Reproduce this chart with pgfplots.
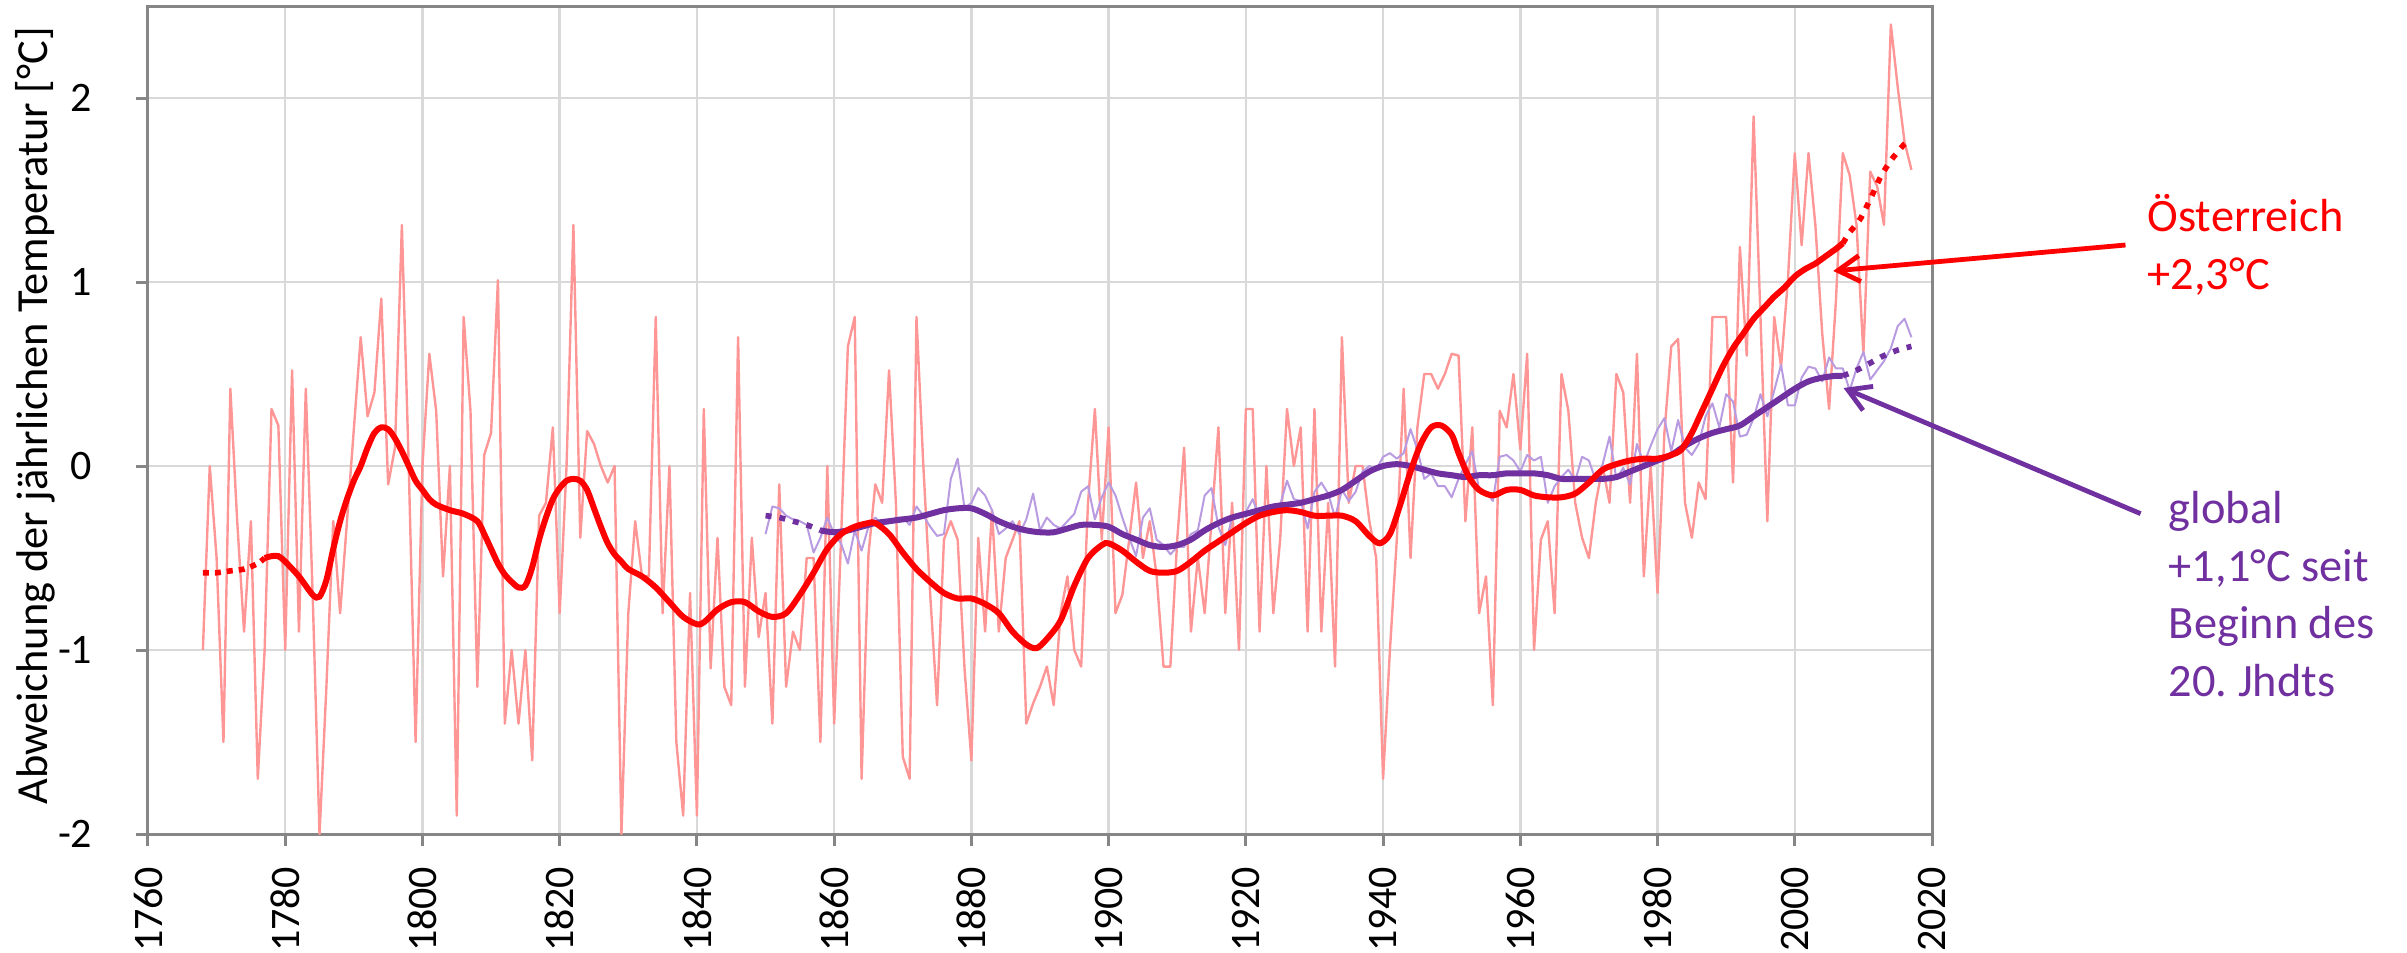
\documentclass[border=0pt]{standalone}
\usepackage{fontspec}
\setmainfont{Carlito}
\usepackage{pgfplots}
\pgfplotsset{compat=1.18}
\usepackage{pgfplotstable}
\usetikzlibrary{arrows.meta}

\definecolor{axgray}{RGB}{134,134,134}
\definecolor{gridgray}{RGB}{217,217,217}
\definecolor{atpink}{RGB}{255,150,150}
\definecolor{atred}{RGB}{255,0,0}
\definecolor{glpurple}{RGB}{112,48,160}
\definecolor{gllav}{RGB}{185,155,225}

% Austria, annual anomaly
\pgfplotstableread{
year val
1768 -1.00
1769 0.00
1770 -0.50
1771 -1.50
1772 0.42
1773 -0.30
1774 -0.90
1775 -0.30
1776 -1.70
1777 -1.00
1778 0.31
1779 0.22
1780 -1.00
1781 0.52
1782 -0.90
1783 0.42
1784 -0.70
1785 -2.00
1786 -1.20
1787 -0.30
1788 -0.80
1789 -0.30
1790 0.20
1791 0.70
1792 0.27
1793 0.40
1794 0.91
1795 -0.10
1796 0.10
1797 1.31
1798 0.00
1799 -1.50
1800 0.00
1801 0.61
1802 0.30
1803 -0.60
1804 0.00
1805 -1.90
1806 0.81
1807 0.30
1808 -1.20
1809 0.06
1810 0.18
1811 1.01
1812 -1.40
1813 -1.00
1814 -1.40
1815 -1.00
1816 -1.60
1817 -0.27
1818 -0.20
1819 0.21
1820 -0.80
1821 0.00
1822 1.31
1823 -0.39
1824 0.19
1825 0.12
1826 0.00
1827 -0.09
1828 0.00
1829 -2.00
1830 -0.80
1831 -0.30
1832 -0.60
1833 -0.60
1834 0.81
1835 -0.80
1836 0.00
1837 -1.50
1838 -1.90
1839 -0.69
1840 -1.90
1841 0.31
1842 -1.10
1843 -0.39
1844 -1.20
1845 -1.30
1846 0.70
1847 -1.20
1848 -0.39
1849 -0.93
1850 -0.69
1851 -1.40
1852 -0.10
1853 -1.20
1854 -0.90
1855 -1.00
1856 -0.50
1857 -0.50
1858 -1.50
1859 0.00
1860 -1.40
1861 -0.40
1862 0.65
1863 0.81
1864 -1.70
1865 -0.48
1866 -0.10
1867 -0.20
1868 0.52
1869 -0.20
1870 -1.58
1871 -1.70
1872 0.81
1873 0.00
1874 -0.70
1875 -1.30
1876 -0.40
1877 -0.30
1878 -0.40
1879 -1.10
1880 -1.60
1881 -0.39
1882 -0.90
1883 -0.24
1884 -0.90
1885 -0.50
1886 -0.40
1887 -0.30
1888 -1.40
1889 -1.29
1890 -1.20
1891 -1.09
1892 -1.30
1893 -0.80
1894 -0.60
1895 -1.00
1896 -1.09
1897 -0.20
1898 0.31
1899 -0.40
1900 0.21
1901 -0.80
1902 -0.70
1903 -0.40
1904 -0.09
1905 -0.50
1906 -0.30
1907 -0.60
1908 -1.09
1909 -1.09
1910 -0.40
1911 0.10
1912 -0.90
1913 -0.50
1914 -0.80
1915 -0.30
1916 0.21
1917 -0.80
1918 -0.20
1919 -1.00
1920 0.31
1921 0.31
1922 -0.90
1923 0.00
1924 -0.80
1925 -0.40
1926 0.31
1927 0.00
1928 0.21
1929 -0.90
1930 0.31
1931 -0.90
1932 -0.20
1933 -1.09
1934 0.70
1935 -0.20
1936 0.00
1937 0.00
1938 -0.30
1939 -0.50
1940 -1.70
1941 -1.00
1942 -0.40
1943 0.42
1944 -0.50
1945 0.21
1946 0.50
1947 0.50
1948 0.42
1949 0.50
1950 0.61
1951 0.60
1952 -0.30
1953 0.21
1954 -0.80
1955 -0.60
1956 -1.30
1957 0.30
1958 0.21
1959 0.50
1960 0.09
1961 0.61
1962 -1.00
1963 -0.40
1964 -0.30
1965 -0.80
1966 0.50
1967 0.30
1968 -0.20
1969 -0.39
1970 -0.50
1971 -0.20
1972 0.00
1973 -0.20
1974 0.50
1975 0.40
1976 -0.20
1977 0.61
1978 -0.60
1979 0.00
1980 -0.69
1981 0.18
1982 0.65
1983 0.69
1984 -0.20
1985 -0.39
1986 -0.09
1987 -0.18
1988 0.81
1989 0.81
1990 0.81
1991 -0.09
1992 1.19
1993 0.60
1994 1.90
1995 0.81
1996 -0.30
1997 0.81
1998 0.54
1999 1.01
2000 1.70
2001 1.20
2002 1.70
2003 1.31
2004 0.72
2005 0.31
2006 0.90
2007 1.70
2008 1.58
2009 1.31
2010 0.61
2011 1.60
2012 1.52
2013 1.31
2014 2.40
2015 2.06
2016 1.76
2017 1.61
}\atannual

% Austria, smoothed (dotted start)
\pgfplotstableread{
year val
1768 -0.58
1770 -0.58
1772 -0.57
1774 -0.56
1776 -0.53
1777 -0.50
}\atsmoothA

% Austria, smoothed (solid)
\pgfplotstableread{
year val
1777 -0.50
1778 -0.49
1779 -0.49
1780 -0.52
1782 -0.60
1784 -0.70
1785 -0.71
1786 -0.62
1787 -0.45
1788 -0.30
1789 -0.18
1790 -0.08
1791 0.00
1792 0.10
1793 0.18
1794 0.21
1795 0.20
1796 0.15
1797 0.08
1798 0.00
1799 -0.08
1800 -0.13
1801 -0.18
1802 -0.21
1804 -0.24
1806 -0.26
1808 -0.30
1809 -0.37
1810 -0.45
1811 -0.53
1812 -0.59
1813 -0.63
1814 -0.66
1815 -0.65
1816 -0.55
1817 -0.40
1818 -0.28
1819 -0.18
1820 -0.12
1821 -0.08
1822 -0.07
1823 -0.08
1824 -0.13
1825 -0.23
1826 -0.33
1827 -0.42
1828 -0.48
1829 -0.52
1830 -0.56
1832 -0.60
1834 -0.66
1836 -0.74
1838 -0.82
1840 -0.86
1841 -0.85
1843 -0.78
1845 -0.74
1847 -0.74
1849 -0.79
1851 -0.82
1853 -0.80
1855 -0.70
1857 -0.58
1859 -0.45
1861 -0.37
1863 -0.33
1865 -0.31
1866 -0.31
1868 -0.37
1870 -0.47
1872 -0.56
1874 -0.63
1876 -0.69
1878 -0.72
1880 -0.72
1882 -0.75
1884 -0.80
1886 -0.90
1888 -0.97
1889.5 -0.99
1891 -0.94
1893 -0.84
1895 -0.65
1897 -0.50
1899 -0.43
1900 -0.42
1902 -0.46
1904 -0.52
1906 -0.57
1908 -0.58
1910 -0.57
1912 -0.52
1914 -0.46
1916 -0.41
1918 -0.36
1920 -0.31
1922 -0.27
1924 -0.25
1926 -0.24
1928 -0.25
1930 -0.27
1932 -0.27
1934 -0.27
1936 -0.30
1938 -0.38
1939.5 -0.42
1941 -0.37
1942.5 -0.21
1944 -0.03
1945.5 0.12
1947 0.21
1948.5 0.22
1950 0.17
1951 0.07
1952.5 -0.06
1954 -0.13
1956 -0.16
1958 -0.13
1960 -0.13
1962 -0.16
1964 -0.17
1966 -0.17
1968 -0.15
1970 -0.09
1972 -0.02
1974 0.01
1976 0.03
1978 0.04
1980 0.04
1982 0.06
1983.5 0.09
1985 0.18
1986.5 0.30
1988 0.42
1989.5 0.54
1991 0.64
1992.5 0.72
1994 0.80
1995.5 0.86
1997 0.92
1998.5 0.97
2000 1.03
2001.5 1.07
2003 1.10
2004.5 1.14
2006 1.18
2007 1.21
}\atsmoothB

% Austria, smoothed (dotted end)
\pgfplotstableread{
year val
2007 1.21
2008 1.27
2009.5 1.34
2011 1.45
2012.5 1.57
2014 1.66
2016 1.75
2017 1.77
}\atsmoothC

% Global, annual anomaly
\pgfplotstableread{
year val
1850 -0.37
1851 -0.22
1852 -0.23
1853 -0.27
1854 -0.29
1855 -0.30
1856 -0.32
1857 -0.47
1858 -0.39
1859 -0.28
1860 -0.37
1861 -0.42
1862 -0.53
1863 -0.35
1864 -0.46
1865 -0.33
1866 -0.28
1867 -0.32
1868 -0.31
1869 -0.28
1870 -0.28
1871 -0.32
1872 -0.22
1873 -0.27
1874 -0.33
1875 -0.38
1876 -0.37
1877 -0.07
1878 0.04
1879 -0.23
1880 -0.20
1881 -0.12
1882 -0.16
1883 -0.24
1884 -0.37
1885 -0.34
1886 -0.30
1887 -0.37
1888 -0.29
1889 -0.15
1890 -0.35
1891 -0.28
1892 -0.32
1893 -0.34
1894 -0.30
1895 -0.26
1896 -0.14
1897 -0.11
1898 -0.29
1899 -0.17
1900 -0.09
1901 -0.16
1902 -0.28
1903 -0.39
1904 -0.49
1905 -0.28
1906 -0.23
1907 -0.40
1908 -0.43
1909 -0.48
1910 -0.44
1911 -0.44
1912 -0.37
1913 -0.35
1914 -0.16
1915 -0.12
1916 -0.33
1917 -0.43
1918 -0.28
1919 -0.27
1920 -0.25
1921 -0.18
1922 -0.28
1923 -0.26
1924 -0.25
1925 -0.21
1926 -0.08
1927 -0.18
1928 -0.19
1929 -0.34
1930 -0.14
1931 -0.09
1932 -0.15
1933 -0.28
1934 -0.13
1935 -0.19
1936 -0.14
1937 -0.03
1938 0.00
1939 -0.02
1940 0.05
1941 0.07
1942 0.04
1943 0.07
1944 0.20
1945 0.09
1946 -0.07
1947 -0.04
1948 -0.11
1949 -0.11
1950 -0.17
1951 -0.07
1952 0.01
1953 0.08
1954 -0.13
1955 -0.14
1956 -0.19
1957 0.05
1958 0.06
1959 0.03
1960 -0.03
1961 0.06
1962 0.03
1963 0.05
1964 -0.20
1965 -0.11
1966 -0.06
1967 -0.02
1968 -0.08
1969 0.05
1970 0.03
1971 -0.08
1972 0.01
1973 0.16
1974 -0.07
1975 -0.01
1976 -0.10
1977 0.12
1978 0.01
1979 0.11
1980 0.20
1981 0.26
1982 0.08
1983 0.25
1984 0.10
1985 0.06
1986 0.12
1987 0.27
1988 0.34
1989 0.21
1990 0.39
1991 0.35
1992 0.16
1993 0.17
1994 0.26
1995 0.39
1996 0.27
1997 0.41
1998 0.55
1999 0.33
2000 0.33
2001 0.48
2002 0.54
2003 0.53
2004 0.46
2005 0.59
2006 0.53
2007 0.53
2008 0.41
2009 0.53
2010 0.62
2011 0.47
2012 0.52
2013 0.57
2014 0.64
2015 0.76
2016 0.80
2017 0.70
}\glannual

% Global, smoothed (dotted start)
\pgfplotstableread{
year val
1850 -0.27
1852 -0.28
1854 -0.30
1856 -0.32
1858 -0.35
}\glsmoothA

% Global, smoothed (solid)
\pgfplotstableread{
year val
1858 -0.35
1860 -0.36
1862 -0.35
1864 -0.33
1866 -0.31
1868 -0.30
1870 -0.29
1872 -0.28
1874 -0.26
1876 -0.24
1878 -0.23
1880 -0.23
1882 -0.26
1884 -0.30
1886 -0.33
1888 -0.35
1890 -0.36
1892 -0.36
1894 -0.34
1896 -0.32
1898 -0.32
1900 -0.33
1902 -0.37
1904 -0.40
1906 -0.43
1908 -0.44
1910 -0.43
1912 -0.40
1914 -0.35
1916 -0.31
1918 -0.28
1920 -0.26
1922 -0.24
1924 -0.22
1926 -0.21
1928 -0.20
1930 -0.18
1932 -0.16
1934 -0.13
1936 -0.08
1938 -0.03
1940 0.00
1942 0.01
1944 0.00
1946 -0.02
1948 -0.04
1950 -0.05
1952 -0.06
1954 -0.05
1956 -0.05
1958 -0.04
1960 -0.04
1962 -0.04
1964 -0.05
1966 -0.07
1968 -0.07
1970 -0.07
1972 -0.07
1974 -0.06
1976 -0.03
1978 0.00
1980 0.03
1982 0.06
1984 0.11
1986 0.15
1988 0.18
1990 0.20
1992 0.22
1994 0.27
1996 0.32
1998 0.37
2000 0.42
2002 0.46
2004 0.48
2006 0.49
2007 0.49
}\glsmoothB

% Global, smoothed (dotted end)
\pgfplotstableread{
year val
2007 0.49
2009 0.52
2011 0.56
2013 0.60
2015 0.63
2017 0.65
}\glsmoothC

\begin{document}
\begin{tikzpicture}
\begin{axis}[
  scale only axis,
  width=446bp, height=207bp,
  xmin=1760, xmax=2020, ymin=-2, ymax=2.5,
  xtick={1760,1780,1800,1820,1840,1860,1880,1900,1920,1940,1960,1980,2000,2020},
  xticklabels={1760,1780,1800,1820,1840,1860,1880,1900,1920,1940,1960,1980,2000,2020},
  ytick={-2,-1,0,1,2},
  yticklabels={-2,-1,0,1,2},
  grid=major,
  major grid style={draw=gridgray, line width=0.6bp},
  axis line style={draw=axgray, line width=0.75bp},
  every tick/.style={draw=axgray, line width=0.75bp},
  major tick length=3bp,
  tick align=outside,
  tick pos=left,
  tick label style={font=\fontsize{10.5bp}{12bp}\selectfont, inner sep=0pt},
  xticklabel style={rotate=90, anchor=east},
  yticklabel style={anchor=east},
  xticklabel shift=5bp,
  yticklabel shift=10.75bp,
  ylabel={Abweichung der jährlichen Temperatur [°C]},
  ylabel style={font=\fontsize{11.1bp}{13bp}\selectfont, at={(axis description cs:-0.0633,0.505)}, anchor=center, inner sep=0pt},
  clip=false,
  axis on top=false,
]
\coordinate (SW) at (rel axis cs:0,0);
\coordinate (NE) at (rel axis cs:1,1);

\addplot[atpink, line width=0.6bp, line join=round] table[x=year,y=val] {\atannual};
\addplot[gllav, line width=0.5bp, line join=round] table[x=year,y=val] {\glannual};

\addplot[glpurple, line width=1.4bp, dash pattern=on 1.5bp off 2bp, smooth] table[x=year,y=val] {\glsmoothA};
\addplot[glpurple, line width=1.5bp, smooth] table[x=year,y=val] {\glsmoothB};
\addplot[glpurple, line width=1.4bp, dash pattern=on 1.5bp off 2bp, smooth] table[x=year,y=val] {\glsmoothC};

\addplot[atred, line width=1.4bp, dash pattern=on 1.5bp off 1.5bp, smooth] table[x=year,y=val] {\atsmoothA};
\addplot[atred, line width=1.5bp, smooth] table[x=year,y=val] {\atsmoothB};
\addplot[atred, line width=1.4bp, dash pattern=on 1.5bp off 2bp, smooth] table[x=year,y=val] {\atsmoothC};

% annotations
\draw[atred, line width=1.2bp, -{Straight Barb[length=5.5bp, width=6.5bp]}] (axis cs:2048.2,1.201) -- (axis cs:2005.6,1.06);
\draw[glpurple, line width=1.2bp, -{Straight Barb[length=5.5bp, width=6.5bp]}] (axis cs:2050.4,-0.259) -- (axis cs:2007.1,0.424);

\begin{scope}[every node/.style={anchor=base west, inner sep=0pt, font=\fontsize{11.6bp}{14bp}\selectfont}]
\node[text=atred] at (axis cs:2051.3,1.272) {Österreich};
\node[text=atred] at (axis cs:2051.3,0.962) {+2,3°C};
\node[text=glpurple] at (axis cs:2054.4,-0.315) {global};
\node[text=glpurple] at (axis cs:2054.4,-0.628) {+1,1°C seit};
\node[text=glpurple] at (axis cs:2054.4,-0.940) {Beginn des};
\node[text=glpurple] at (axis cs:2054.4,-1.250) {20.\ Jhdts};
\end{scope}
\end{axis}
\pgfresetboundingbox
\path[use as bounding box] ([xshift=-37bp,yshift=-29.75bp]SW) rectangle ([xshift=118.75bp,yshift=1.5bp]NE);
\end{tikzpicture}
\end{document}
